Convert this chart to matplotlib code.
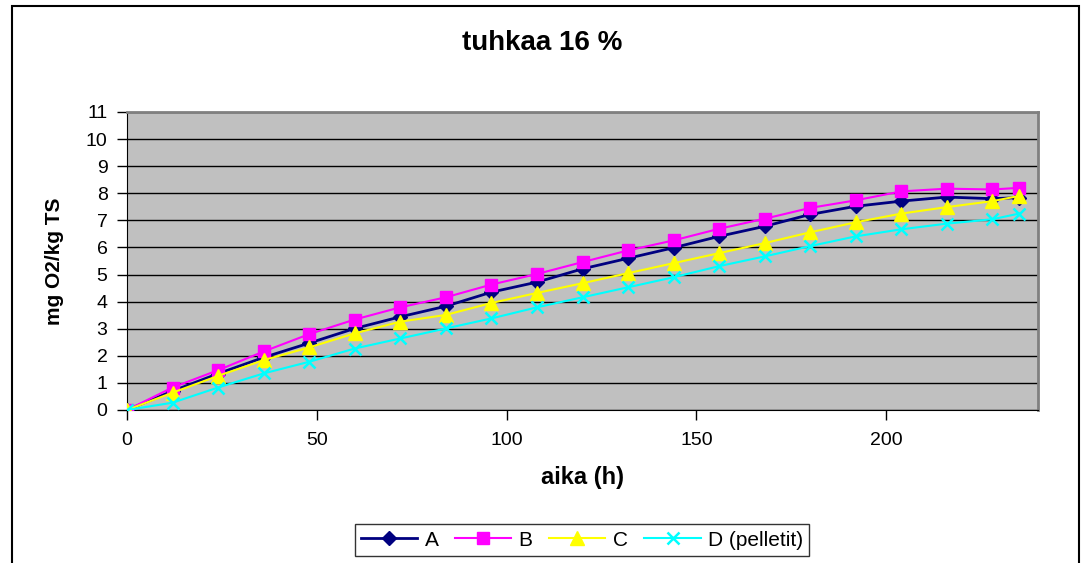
import matplotlib
matplotlib.use("Agg")
import matplotlib.pyplot as plt
from matplotlib.patches import Rectangle

plt.rcParams['font.family'] = ['Liberation Sans', 'DejaVu Sans']

# aika (h)
aika = [0, 12, 24, 36, 48, 60, 72, 84, 96, 108, 120, 132, 144, 156, 168, 180, 192, 204, 216, 228, 235]

# mg O2/kg TS
sarja_A = [0, 0.70, 1.34, 1.94, 2.47, 3.01, 3.44, 3.83, 4.35, 4.72, 5.21, 5.60, 5.99, 6.41, 6.78,
           7.22, 7.52, 7.71, 7.86, 7.80, 7.84]
sarja_B = [0, 0.83, 1.47, 2.16, 2.80, 3.34, 3.79, 4.16, 4.63, 5.02, 5.46, 5.89, 6.26, 6.69, 7.06,
           7.46, 7.74, 8.07, 8.17, 8.14, 8.20]
sarja_C = [0, 0.64, 1.26, 1.84, 2.31, 2.83, 3.26, 3.51, 3.95, 4.32, 4.68, 5.05, 5.42, 5.79, 6.16,
           6.56, 6.93, 7.25, 7.49, 7.71, 7.90]
sarja_D = [0, 0.27, 0.83, 1.35, 1.78, 2.27, 2.64, 3.01, 3.38, 3.79, 4.16, 4.53, 4.90, 5.31, 5.67,
           6.05, 6.41, 6.67, 6.88, 7.04, 7.25]

nimet = ['A', 'B', 'C', 'D (pelletit)']

W, H = 1082, 563
fig = plt.figure(figsize=(W / 100, H / 100), dpi=100)

# plot area in pixels: x 127..1038, y 112..410
ax = fig.add_axes([127 / W, 1 - 410 / H, (1038 - 127) / W, (410 - 112) / H])
ax.set_facecolor('#C0C0C0')

ax.plot(aika, sarja_A, color='#000080', lw=2, marker='D', ms=7, label=nimet[0], zorder=3)
ax.plot(aika, sarja_B, color='#FF00FF', lw=1.5, marker='s', ms=8.5, label=nimet[1], zorder=3)
ax.plot(aika, sarja_C, color='#FFFF00', lw=1.5, marker='^', ms=9.5, label=nimet[2], zorder=3)
ax.plot(aika, sarja_D, color='#00FFFF', lw=1.5, marker='x', ms=9, mew=1.8, label=nimet[3], zorder=3)

ax.set_xlim(0, 240)
ax.set_ylim(0, 11)
ax.set_xticks([0, 50, 100, 150, 200])
ax.set_yticks(range(0, 12))
ax.yaxis.grid(True, color='black', lw=1)
ax.set_axisbelow(True)

for s in ['top', 'right']:
    ax.spines[s].set_color('#808080')
    ax.spines[s].set_linewidth(2)
ax.spines['left'].set_color('black')
ax.spines['bottom'].set_color('black')
ax.tick_params(axis='both', direction='out', length=7, width=1, labelsize=14, pad=7)
ax.tick_params(axis='x', pad=9)

ax.set_xlabel('aika (h)', fontsize=17, fontweight='bold', labelpad=12)
ax.set_ylabel('mg O2/kg TS', fontsize=15, fontweight='bold', labelpad=16)
fig.text(542 / W, 1 - 43 / H, 'tuhkaa 16 %', fontsize=20, fontweight='bold',
         ha='center', va='center')

leg = fig.legend(loc='center', bbox_to_anchor=(582 / W, 1 - 540 / H), ncol=4, fontsize=15,
                 frameon=True, fancybox=False, edgecolor='black', handlelength=2.7,
                 columnspacing=0.8, handletextpad=0.35, borderpad=0.3)
leg.get_frame().set_linewidth(1)

# chart outer border
fig.patches.append(Rectangle((12 / W, -0.05), (1079 - 12) / W, 1 - 6 / H + 0.05,
                             transform=fig.transFigure, fill=False, edgecolor='black', lw=1.5))

fig.savefig('out.png', dpi=100)
